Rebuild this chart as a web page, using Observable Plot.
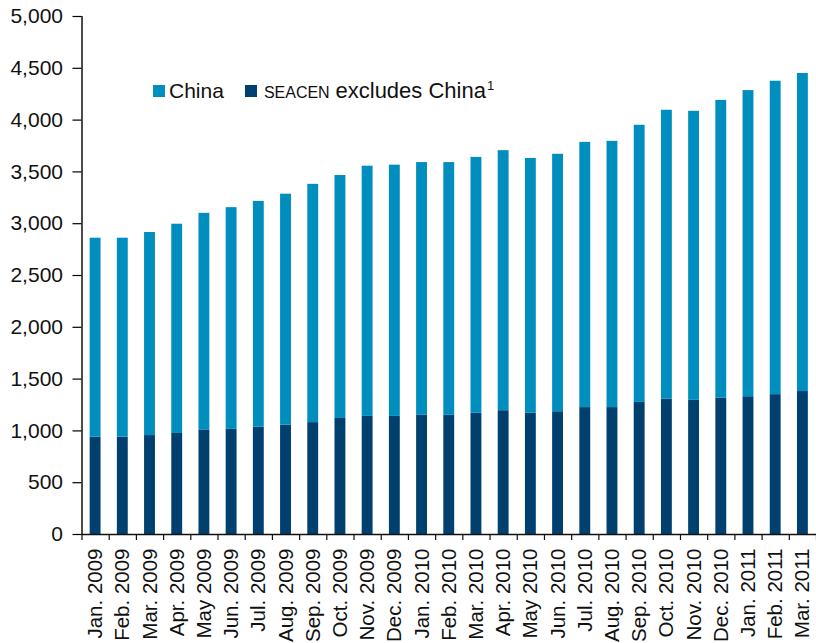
<!DOCTYPE html>
<html><head><meta charset="utf-8">
<script src="https://cdn.jsdelivr.net/npm/d3@7"></script>
<script src="https://cdn.jsdelivr.net/npm/@observablehq/plot@0.6"></script>
<style>
body{margin:0;background:#fff;font-family:"Liberation Sans",Arial,Helvetica,sans-serif;}
#wrap{position:relative;width:816px;height:643px;}
#legend{position:absolute;left:153px;top:78px;display:flex;align-items:center;font-size:21px;color:#111;white-space:nowrap;}
.sw{display:inline-block;width:12px;height:12px;margin-right:4px;}
.item{display:flex;align-items:center;margin-right:21px;}
sup{font-size:13px;vertical-align:8px;line-height:0;margin-left:1px;}
svg text{fill:#111;}
</style></head><body><div id="wrap"><div id="legend"></div></div>
<script>
const months = ["Jan. 2009","Feb. 2009","Mar. 2009","Apr. 2009","May 2009","Jun. 2009","Jul. 2009","Aug. 2009","Sep. 2009","Oct. 2009","Nov. 2009","Dec. 2009",
  "Jan. 2010","Feb. 2010","Mar. 2010","Apr. 2010","May 2010","Jun. 2010","Jul. 2010","Aug. 2010","Sep. 2010","Oct. 2010","Nov. 2010","Dec. 2010",
  "Jan. 2011","Feb. 2011","Mar. 2011"];
const seacen = [940,940,955,975,1005,1015,1035,1055,1080,1120,1140,1140,1150,1150,1170,1195,1170,1185,1225,1225,1275,1305,1295,1315,1330,1350,1380];
const china  = [1920,1920,1960,2020,2095,2140,2180,2230,2300,2345,2415,2425,2440,2440,2470,2510,2460,2485,2560,2570,2675,2790,2790,2875,2955,3025,3070];
const seriesNames = ["China","SEACEN excludes China"];
const seriesColors = ["#008EBE","#00406E"];
const yTicks = [0,500,1000,1500,2000,2500,3000,3500,4000,4500,5000];

const rows = months.flatMap((m,i)=>[
  {month:m, series:seriesNames[1], value:seacen[i]},
  {month:m, series:seriesNames[0], value:china[i]}
]);

const base = {
  width:816, height:643, marginLeft:81.5, marginRight:0, marginTop:16, marginBottom:109,
  style:{fontFamily:'"Liberation Sans",Arial,Helvetica,sans-serif', background:"#fff"},
  x:{type:"band", domain:months, paddingInner:0.6, paddingOuter:0.3, round:false, label:null},
  y:{domain:[0,5000], label:null},
  color:{domain:seriesNames, range:seriesColors}
};
function build(step){
  return Plot.plot({...base, marks:[
    Plot.barY(rows,{x:"month", y:"value", fill:"series"}),
    Plot.ruleY([0],{stroke:"#111", strokeWidth:1.5}),
    Plot.ruleX([months[0]],{y1:0, y2:5000, dx:-step/2, stroke:"#111", strokeWidth:1.5}),
    Plot.ruleX(months,{y1:0, y2:0, dx:-step/2, insetBottom:-6, stroke:"#111", strokeWidth:1.2}),
    Plot.ruleX([months[months.length-1]],{y1:0, y2:0, dx:step/2, insetBottom:-6, stroke:"#111", strokeWidth:1.2}),
    Plot.axisY({ticks:yTicks, tickFormat:d3.format(","), tickSize:9, tickPadding:10, fontSize:21, label:null, strokeWidth:1.2}),
    Plot.axisX({tickSize:0, tickPadding:14, tickRotate:-90, fontSize:20.5, label:null})
  ]});
}
const first = build(0);
const step = first.scale("x").step;
const chart = build(step);
document.getElementById("wrap").prepend(chart);

const leg = document.getElementById("legend");
seriesNames.forEach((s,i)=>{
  const it = document.createElement("span");
  it.className="item";
  const sw = document.createElement("span");
  sw.className="sw"; sw.style.background=seriesColors[i];
  it.appendChild(sw);
  const t = document.createElement("span");
  if(i===0){ t.textContent=s; }
  else { t.innerHTML='<span style="font-size:16px">SEACEN</span> <span style="font-size:22px">excludes China</span><sup>1</sup>'; sw.style.marginRight="7px"; }
  it.appendChild(t);
  leg.appendChild(it);
});
</script></body></html>
